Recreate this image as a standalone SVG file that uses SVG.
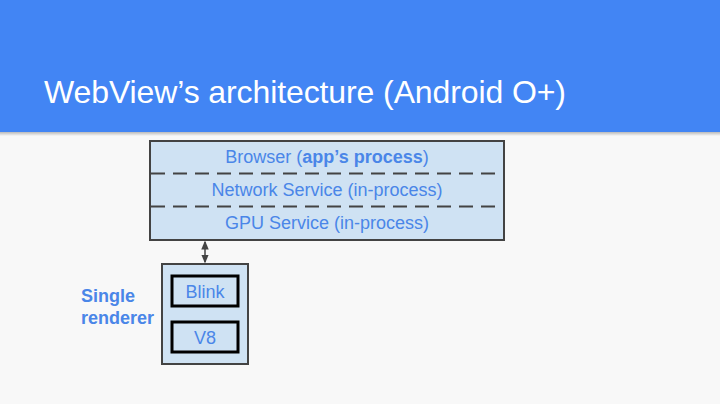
<svg xmlns="http://www.w3.org/2000/svg" width="720" height="404" viewBox="0 0 720 404">
<defs>
<style>
.t{font-family:"Liberation Sans",Arial,sans-serif;fill:#4a86e8;font-size:18px;text-anchor:middle}
.box{fill:#cfe2f3;stroke:#434343;stroke-width:2}
.inner{fill:#cfe2f3;stroke:#000;stroke-width:3}
.dash{stroke:#434343;stroke-width:2;stroke-dasharray:14,8}
</style>
<marker id="ah" viewBox="0 0 6 6" refX="5" refY="3" markerWidth="6" markerHeight="6" orient="auto-start-reverse"><path d="M0,0.5 L6,3 L0,5.5Z" fill="#434343"/></marker>
<linearGradient id="sh" x1="0" y1="0" x2="0" y2="1"><stop offset="0" stop-color="#000" stop-opacity="0.25"/><stop offset="1" stop-color="#000" stop-opacity="0"/></linearGradient>
</defs>
<rect width="720" height="404" fill="#f8f8f8"/>
<rect x="0" y="132" width="720" height="4" fill="url(#sh)"/>
<rect width="720" height="132" fill="#4285f4"/>
<text x="44" y="103" font-family="Liberation Sans,Arial,sans-serif" font-size="32" fill="#fff" textLength="522">WebView’s architecture (Android O+)</text>
<g id="browser">
<rect class="box" x="150" y="141" width="354" height="99"/>
<line class="dash" x1="151" y1="173.5" x2="503" y2="173.5"/>
<line class="dash" x1="151" y1="206.5" x2="503" y2="206.5"/>
<text class="t" x="327" y="163">Browser (<tspan font-weight="bold">app’s process</tspan>)</text>
<text class="t" x="327" y="196">Network Service (in-process)</text>
<text class="t" x="327" y="229">GPU Service (in-process)</text>
</g>
<g id="renderer">
<rect class="box" x="162" y="264" width="86" height="100"/>
<rect class="inner" x="172" y="276" width="66" height="30"/>
<text class="t" x="205" y="298">Blink</text>
<rect class="inner" x="172" y="322" width="66" height="30"/>
<text class="t" x="205" y="344">V8</text>
</g>
<g id="label">
<text x="81" y="302" font-family="Liberation Sans,Arial,sans-serif" font-size="18" font-weight="bold" fill="#4a86e8">Single</text>
<text x="81" y="324" font-family="Liberation Sans,Arial,sans-serif" font-size="18" font-weight="bold" fill="#4a86e8">renderer</text>
</g>
<g id="connectors">
<line x1="205" y1="242" x2="205" y2="262" stroke="#434343" stroke-width="1.5" marker-start="url(#ah)" marker-end="url(#ah)"/>
</g>
</svg>
